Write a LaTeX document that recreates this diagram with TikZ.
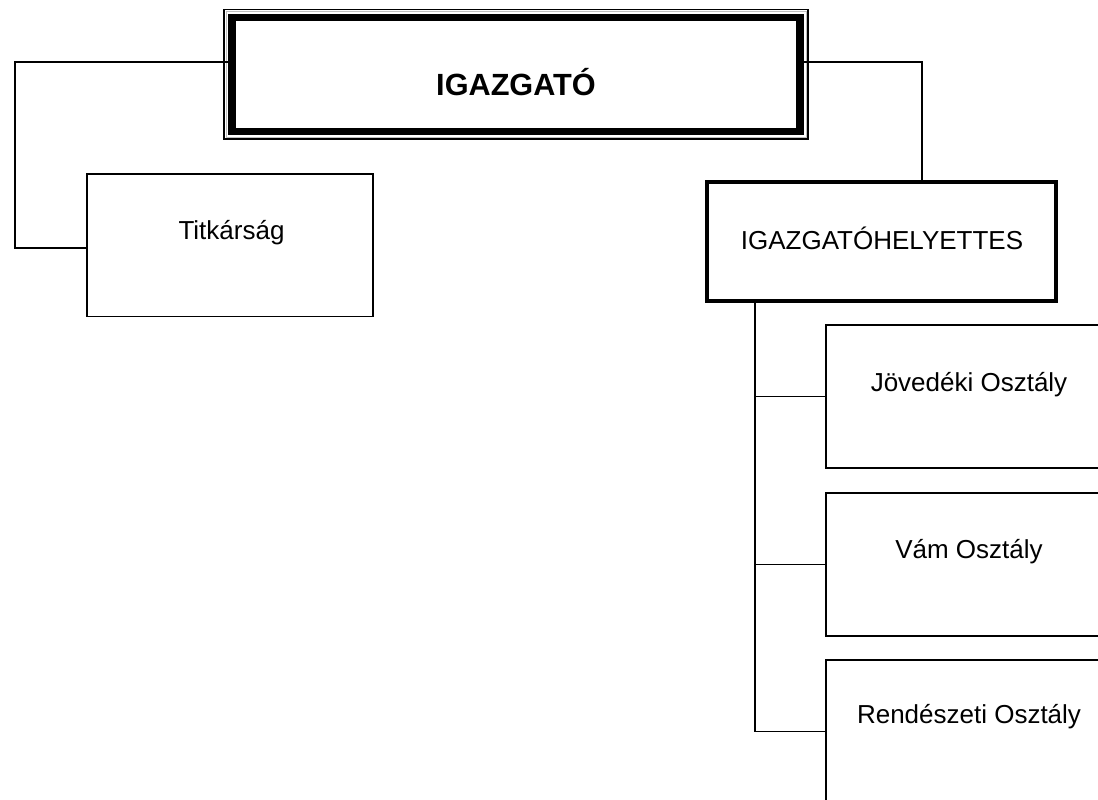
\documentclass[tikz,border=0pt]{standalone}
\usepackage{fontspec}
\setmainfont{Liberation Sans}
\begin{document}
\begin{tikzpicture}[x=0.75pt,y=-0.75pt,
  thinline/.style={line width=1.2pt},
  box/.style 2 args={draw,rectangle,inner sep=0pt,minimum width=#1*0.75pt,minimum height=#2*0.75pt},
  lbl/.style={anchor=base,font=\fontsize{19.5pt}{23pt}\selectfont,inner sep=0pt}]
\useasboundingbox (0,0) rectangle (1098,799);
\fill[white] (0,0) rectangle (1098,799);
\clip (0,0) rectangle (1098,799);
% top director box with double frame
\node[box={584}{129.5},thinline] (dirout) at (516,74.25) {};
\node[box={580}{125.5},draw=gray!50,line width=0.6pt] (dirgray) at (516,74.25) {};
\node[box={568}{114},line width=5.8pt] (dir) at (516,74.5) {};
\node[anchor=base,inner sep=0pt,font=\fontsize{23pt}{27pt}\selectfont\bfseries] (dirtxt) at (516,95) {IGAZGATÓ};
% secretariat
\node[box={286}{142.5},thinline] (tit) at (230,245.25) {};
\node[lbl] (tittxt) at (231.5,239) {Titkárság};
% deputy
\node[box={349}{119},line width=3.6pt] (hely) at (881.5,241.5) {};
\node[lbl] (helytxt) at (882,249) {IGAZGATÓHELYETTES};
% departments
\node[box={286}{143},thinline] (jov) at (969,396.5) {};
\node[lbl] (jovtxt) at (969,391) {Jövedéki Osztály};
\node[box={286}{143},thinline] (vam) at (969,564.5) {};
\node[lbl] (vamtxt) at (969,558) {Vám Osztály};
\node[box={286}{143},thinline] (ren) at (969,731.5) {};
\node[lbl] (rentxt) at (969,723) {Rendészeti Osztály};
% connectors
\coordinate (lt) at (15,62);
\coordinate (lb) at (15,248);
\coordinate (rt) at (922,62);
\coordinate (vx) at (755,0);
\draw[thinline] (dir.west |- lt) -- (lt) -- (lb) -- (tit.west |- lb);
\draw[thinline] (dir.east |- rt) -- (rt) -- (rt |- hely.north);
\draw[thinline] (vx |- hely.south) -- (vx |- ren.west) -- (ren.west);
\draw[thinline] (vx |- jov.west) -- (jov.west);
\draw[thinline] (vx |- vam.west) -- (vam.west);
\end{tikzpicture}
\end{document}
